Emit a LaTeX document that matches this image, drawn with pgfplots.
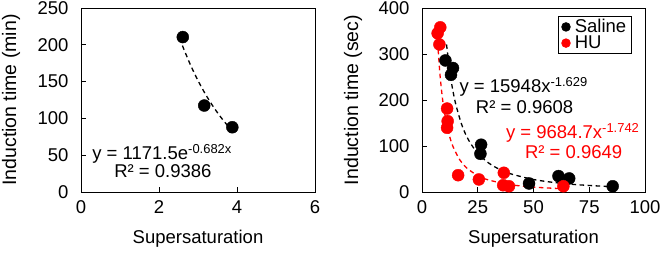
\documentclass[border=0pt]{standalone}
\usepackage{pgfplots}
\pgfplotsset{compat=1.18}
\usepackage{fontspec}
\setmainfont{Liberation Sans}
\definecolor{hured}{RGB}{255,0,0}
\begin{document}
\begin{tikzpicture}
\path[use as bounding box] (0,0) rectangle (661pt,252pt);
\pgfplotsset{
  every axis/.append style={
    scale only axis, anchor=south west,
    font=\fontsize{18.5}{22}\selectfont,
    tick label style={font=\fontsize{18.5}{22}\selectfont},
    /pgf/number format/assume math mode=true,
    tick align=inside, tick pos=left,
    major tick length=5pt,
    axis line style={line width=0.8pt},
    every tick/.style={black, line width=0.8pt},
    yticklabel style={xshift=-9pt},
    xticklabel style={yshift=-5pt},
    clip=false,
  },
}
% Left panel
\begin{axis}[at={(81pt,60pt)}, width=234pt, height=184pt,
  xmin=0, xmax=6, ymin=0, ymax=250,
  xtick={0,2,4,6}, ytick={0,50,100,150,200,250},
  xlabel={Supersaturation}, ylabel={Induction time (min)},
  xlabel style={at={(axis description cs:0.5,-0.255)}, anchor=center},
  ylabel style={at={(axis description cs:-0.299,0.5)}, anchor=center, font=\fontsize{19.5}{22}\selectfont},
]
\addplot[black, dashed, line width=1.3pt, dash pattern=on 4.5pt off 3.5pt, smooth] coordinates {
(2.6,198.9) (2.8,173.5) (3.0,151.4) (3.2,132.1) (3.4,115.3) (3.6,100.6) (3.8,87.7) (3.9,81.9)};
\addplot[only marks, mark=*, mark size=6pt, black] coordinates {
(2.61,210.5) (3.16,117.5) (3.88,88)};
\node at (axis cs:2.08,51.6) {y = 1171.5e\textsuperscript{-0.682x}};
\node at (axis cs:2.10,28.5) {R² = 0.9386};
\end{axis}
% Right panel
\begin{axis}[at={(422pt,60pt)}, width=223pt, height=184pt,
  xmin=0, xmax=100, ymin=0, ymax=400,
  xtick={0,25,50,75,100}, ytick={0,100,200,300,400},
  xlabel={Supersaturation}, ylabel={Induction time (sec)},
  xlabel style={at={(axis description cs:0.5,-0.255)}, anchor=center},
  ylabel style={at={(axis description cs:-0.309,0.5)}, anchor=center, font=\fontsize{19.5}{22}\selectfont},
  legend style={at={(0.94,0.955)}, anchor=north east, draw=black, line width=0.8pt,
    font=\fontsize{18.5}{20}\selectfont, inner xsep=3pt, inner ysep=2pt, row sep=0pt,
    nodes={inner ysep=0.8pt},
    legend cell align=left,
    /tikz/every odd column/.append style={column sep=2.5pt}},
  legend image code/.code={\draw[#1, mark size=4.3pt] plot coordinates {(0.12cm,0cm)};},
]
\addplot[only marks, mark=*, mark size=6pt, black] coordinates {
(10.5,286) (13.9,269.5) (13.0,254.7) (26.5,102.8) (26.2,83) (48,18.5) (61.2,34.6) (66,29.5) (85.5,12.5)};
\addlegendentry{Saline}
\addplot[only marks, mark=*, mark size=6pt, hured] coordinates {
(8.2,358) (7.0,345) (7.8,320.8) (11.25,181.4) (11.5,154) (11.25,139.6) (16.2,36.5) (25.5,27.3) (36.7,41.8) (36.4,14.7) (39,12.5) (63.4,12.5)};
\addlegendentry{HU}
\addplot[black, line width=1.3pt, dash pattern=on 4.5pt off 3.5pt, smooth, forget plot] coordinates {
(11,320.7) (13,244.4) (15,193.6) (18,143.8) (21,111.9) (25,84.2) (30,62.6) (35,48.7) (40,39.2) (50,27.2) (60,20.2) (70,15.7) (85,11.5)};
\addplot[hured, line width=1.3pt, dash pattern=on 4.5pt off 3.5pt, smooth, forget plot] coordinates {
(7,326.5) (8,258.8) (9,210.8) (10,175.4) (12,127.7) (14,97.6) (17,69.6) (20,52.4) (25,35.6) (30,25.9) (40,15.7) (50,10.6) (63,7.1)};
\node at (axis cs:45.6,228) {y = 15948x\textsuperscript{-1.629}};
\node at (axis cs:46,184) {R² = 0.9608};
\node[text=hured] at (axis cs:67.6,129) {y = 9684.7x\textsuperscript{-1.742}};
\node[text=hured] at (axis cs:68,87) {R² = 0.9649};
\end{axis}
\end{tikzpicture}
\end{document}
